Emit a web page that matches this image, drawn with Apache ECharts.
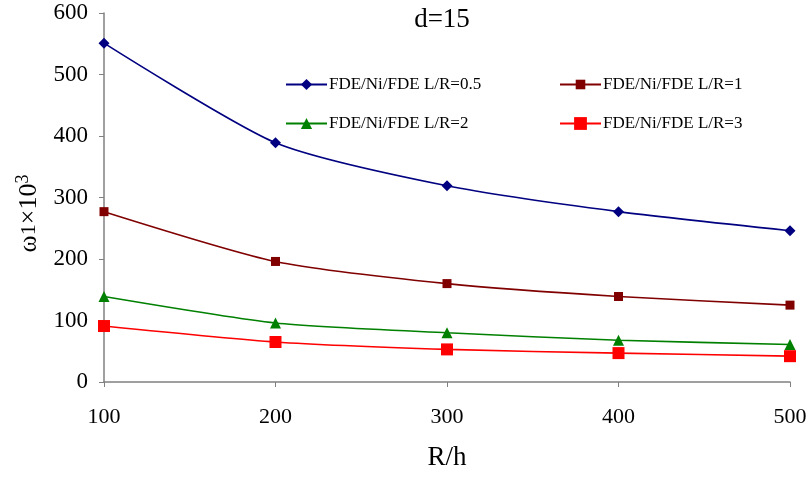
<!DOCTYPE html>
<html><head><meta charset="utf-8">
<script src="https://cdn.jsdelivr.net/npm/echarts@6/dist/echarts.min.js"></script>
<style>html,body{margin:0;padding:0;background:#fff}#c{width:810px;height:477px}</style>
</head><body><div id="c"></div>
<script>
var xValues = [100, 200, 300, 400, 500];
var names = ['FDE/Ni/FDE L/R=0.5', 'FDE/Ni/FDE L/R=1', 'FDE/Ni/FDE L/R=2', 'FDE/Ni/FDE L/R=3'];
var lr05 = [551, 389, 319, 277, 246];
var lr1 = [277, 196, 160, 139, 125];
var lr2 = [139, 96, 80, 68, 61];
var lr3 = [91, 65, 53, 47, 42];
var yTicks = [0, 100, 200, 300, 400, 500, 600];

var font = '"Liberation Serif", "Times New Roman", serif';
function pairs(v){ return xValues.map(function(x,i){ return [x, v[i]]; }); }
var colors = ['#000080', '#800000', '#008000', '#ff0000'];
var symbols = ['diamond', 'rect', 'triangle', 'rect'];
var sizes = [11, 9, 11, 12];
var datas = [lr05, lr1, lr2, lr3];

var series = datas.map(function(d, i){
  return {
    name: names[i], type: 'line', data: pairs(d), smooth: 0.22,
    symbol: symbols[i], symbolSize: sizes[i], showSymbol: true,
    lineStyle: {color: colors[i], width: 1.6},
    itemStyle: {color: colors[i]}, z: 5 - i
  };
});

var legendPos = [[280, 71], [554, 71], [280, 110], [554, 110]];
var legends = names.map(function(n, i){
  return {
    data: [n], left: legendPos[i][0], top: legendPos[i][1],
    itemWidth: 41, itemHeight: Math.round(sizes[i] * 1.3), itemGap: 4,
    textStyle: {fontFamily: font, fontSize: 17, color: '#000', padding: [0,0,0,-3]},
    selectedMode: false
  };
});

var chart = echarts.init(document.getElementById('c'));
chart.setOption({
  animation: false,
  backgroundColor: '#fff',
  title: {text: 'd=15', left: 437, top: 1, textAlign: 'center',
    textStyle: {fontFamily: font, fontSize: 27, fontWeight: 'normal', color: '#000'}},
  legend: legends,
  grid: {left: 104, right: 20, top: 13, bottom: 95, containLabel: false},
  xAxis: {
    type: 'value', min: 100, max: 500, interval: 100,
    name: 'R/h', nameLocation: 'middle', nameGap: 62,
    nameTextStyle: {fontFamily: font, fontSize: 27, color: '#000'},
    axisLine: {lineStyle: {color: '#808080', width: 1.5}},
    axisTick: {show: true, length: 5, lineStyle: {color: '#808080'}},
    axisLabel: {fontFamily: font, fontSize: 22, color: '#000', margin: 24},
    splitLine: {show: false}
  },
  yAxis: {
    type: 'value', min: 0, max: 600, interval: 100,
    name: '{a|ω}{b|1}{a|×10}{s|3}', nameLocation: 'middle', nameGap: 59, nameRotate: 90,
    nameTextStyle: {fontFamily: font, fontSize: 26, color: '#000', padding: [0, 32, 0, 0],
      rich: {a: {fontFamily: font, fontSize: 26, color: '#000'},
             b: {fontFamily: font, fontSize: 22, color: '#000'},
             s: {fontFamily: font, fontSize: 18, color: '#000', verticalAlign: 'top', padding: [0,0,12,0]}}},
    axisLine: {show: true, lineStyle: {color: '#808080', width: 1.5}},
    axisTick: {show: true, length: 5, lineStyle: {color: '#808080'}},
    axisLabel: {fontFamily: font, fontSize: 23, color: '#000', margin: 16,
      formatter: function(v){ return yTicks.indexOf(v) >= 0 ? String(v) : ''; }},
    splitLine: {show: false}
  },
  series: series
});
</script></body></html>
